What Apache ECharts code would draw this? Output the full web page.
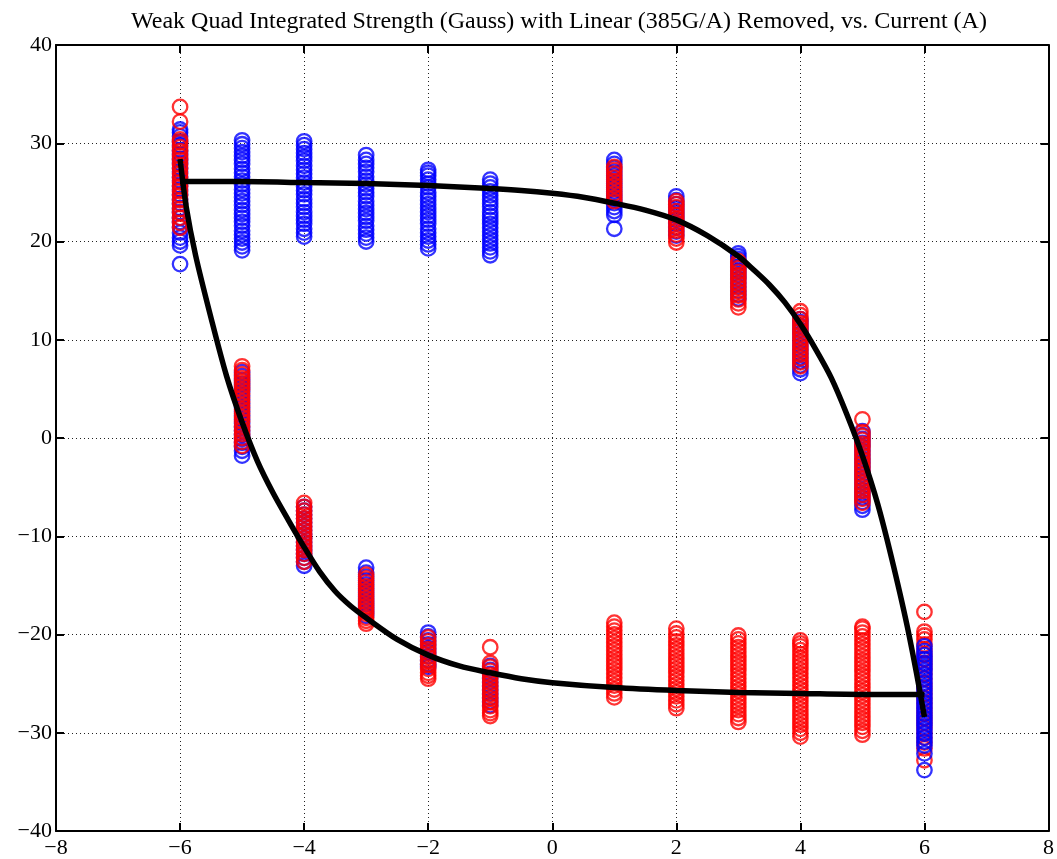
<!DOCTYPE html>
<html>
<head>
<meta charset="utf-8">
<script src="https://cdn.jsdelivr.net/npm/echarts@6/dist/echarts.min.js"></script>
<style>
html,body{margin:0;padding:0;background:#fff;}
#chart{width:1057px;height:859px;}
</style>
</head>
<body>
<div id="chart"></div>
<script>
const titleText = 'Weak Quad Integrated Strength (Gauss) with Linear (385G/A) Removed, vs. Current (A)';
const xTicks = [-8, -6, -4, -2, 0, 2, 4, 6, 8];
const yTicks = [-40, -30, -20, -10, 0, 10, 20, 30, 40];

// Blue measurements per current setting
const blueN6 = [17.7, 19.6, 20.0, 20.4, 20.9, 21.5, 22.0, 22.4, 23.0, 23.4, 23.9, 24.3, 24.8, 25.3, 25.7, 26.2, 26.6, 27.1, 27.5, 28.0, 28.4, 28.9, 29.3, 29.8, 30.2, 30.7, 31.1, 31.4];
const blueN5up = [19.1, 19.5, 19.9, 20.3, 20.7, 21.1, 21.6, 22.0, 22.4, 22.8, 23.2, 23.7, 24.1, 24.5, 24.9, 25.3, 25.8, 26.2, 26.6, 27.0, 27.4, 27.9, 28.3, 28.7, 29.1, 29.5, 29.9, 30.3];
const blueN4up = [20.5, 20.9, 21.3, 21.8, 22.2, 22.6, 23.0, 23.5, 23.9, 24.3, 24.8, 25.2, 25.6, 26.0, 26.5, 26.9, 27.3, 27.7, 28.2, 28.6, 29.0, 29.4, 29.8, 30.2];
const blueN3up = [20.0, 20.4, 20.8, 21.2, 21.6, 22.1, 22.5, 22.9, 23.3, 23.7, 24.1, 24.6, 25.0, 25.4, 25.8, 26.2, 26.6, 27.1, 27.5, 27.9, 28.3, 28.8];
const blueN2up = [19.3, 19.7, 20.1, 20.5, 20.9, 21.3, 21.8, 22.2, 22.6, 23.0, 23.4, 23.8, 24.2, 24.6, 25.0, 25.5, 25.9, 26.3, 26.7, 27.0, 27.3];
const blueN1up = [18.6, 19.0, 19.4, 19.8, 20.2, 20.6, 21.0, 21.4, 21.8, 22.2, 22.6, 23.0, 23.5, 23.9, 24.3, 24.7, 25.1, 25.5, 25.9, 26.3];
const blueN5lo = [-1.8, -1.3, -0.9, -0.5, -0.1, 0.3, 0.7, 1.1, 1.5, 1.9, 2.3, 2.7, 3.1, 3.5, 3.9, 4.3, 4.7, 5.1, 5.5, 5.9, 6.3, 6.7];
const blueN4lo = [-13.0, -12.6, -12.2, -11.8, -11.4, -11.0, -10.6, -10.2, -9.8, -9.4, -9.0, -8.6, -8.2, -7.8, -7.4, -7.0];
const blueN3lo = [-13.2, -13.7, -14.1, -14.5, -14.9, -15.3, -15.7, -16.1, -16.5, -16.9, -17.3, -17.7, -18.1];
const blueN2lo = [-19.8, -20.2, -20.6, -21.0, -21.4, -21.8, -22.2, -22.6, -23.0, -23.3];
const blueN1lo = [-23.2, -23.6, -24.0, -24.4, -24.8, -25.2, -25.6, -26.0, -26.4, -26.8, -27.2];
const blueP1 = [21.3, 22.7, 23.1, 23.5, 23.9, 24.3, 24.7, 25.1, 25.5, 25.9, 26.3, 26.7, 27.1, 27.5, 27.9, 28.3];
const blueP2 = [20.6, 21.0, 21.4, 21.8, 22.2, 22.6, 23.0, 23.4, 23.8, 24.2, 24.6];
const blueP3 = [14.2, 14.6, 15.0, 15.4, 15.8, 16.2, 16.6, 17.0, 17.4, 17.8, 18.2, 18.5, 18.8];
const blueP4 = [6.6, 7.0, 7.4, 7.8, 8.2, 8.6, 9.0, 9.4, 9.8, 10.2, 10.6, 11.0, 11.4, 11.8, 12.1];
const blueP5 = [-7.3, -6.9, -6.5, -6.1, -5.7, -5.3, -4.9, -4.5, -4.1, -3.7, -3.3, -2.9, -2.5, -2.1, -1.7, -1.3, -0.9, -0.5, -0.1, 0.3, 0.7];
const blueP6 = [-33.8, -32.1, -31.3, -30.9, -30.5, -30.1, -29.7, -29.3, -28.9, -28.5, -28.1, -27.7, -27.3, -26.9, -26.5, -26.1, -25.7, -25.3, -24.9, -24.5, -24.1, -23.7, -23.3, -22.9, -22.5, -22.1, -21.7, -21.2];

// Red measurements per current setting
const redN6 = [21.4, 21.9, 22.4, 22.9, 23.3, 23.8, 24.2, 24.7, 25.1, 25.6, 26.0, 26.5, 26.9, 27.4, 27.8, 28.3, 28.7, 29.2, 29.6, 30.1, 30.4, 32.2, 33.7];
const redN5 = [-0.8, -0.4, 0.0, 0.4, 0.8, 1.2, 1.7, 2.1, 2.5, 2.9, 3.3, 3.7, 4.1, 4.5, 4.9, 5.3, 5.7, 6.1, 6.5, 6.9, 7.3];
const redN4 = [-12.6, -12.2, -11.8, -11.4, -11.0, -10.6, -10.2, -9.8, -9.4, -9.0, -8.6, -8.2, -7.8, -7.4, -7.0, -6.6];
const redN3 = [-13.9, -14.3, -14.7, -15.1, -15.5, -15.9, -16.3, -16.7, -17.1, -17.5, -17.9, -18.3, -18.6, -18.9];
const redN2 = [-20.3, -20.7, -21.1, -21.5, -21.9, -22.3, -22.7, -23.1, -23.5, -23.9, -24.2, -24.5];
const redN1 = [-21.3, -22.9, -23.3, -23.7, -24.1, -24.5, -24.9, -25.3, -25.7, -26.1, -26.5, -26.9, -27.3, -27.7, -28.0, -28.3];
const redP1up = [24.1, 24.5, 24.9, 25.3, 25.7, 26.1, 26.5, 26.9, 27.3, 27.6];
const redP2up = [19.9, 20.3, 20.7, 21.1, 21.5, 21.9, 22.3, 22.7, 23.1, 23.5, 23.8, 24.1];
const redP3up = [13.3, 13.7, 14.1, 14.5, 14.9, 15.3, 15.7, 16.1, 16.5, 16.9, 17.3, 17.7, 18.0];
const redP4up = [7.3, 7.7, 8.1, 8.5, 8.9, 9.3, 9.7, 10.1, 10.5, 10.9, 11.3, 11.7, 12.1, 12.5, 12.9];
const redP5up = [-6.6, -6.2, -5.8, -5.4, -5.0, -4.6, -4.2, -3.8, -3.4, -3.0, -2.6, -2.2, -1.8, -1.4, -1.0, -0.6, -0.2, 0.2, 0.6, 1.9];
const redP1lo = [-26.4, -26.0, -25.6, -25.2, -24.8, -24.4, -24.0, -23.6, -23.2, -22.8, -22.4, -22.0, -21.6, -21.2, -20.8, -20.4, -20.0, -19.6, -19.2, -18.8];
const redP2lo = [-27.5, -27.1, -26.7, -26.3, -25.9, -25.5, -25.1, -24.7, -24.3, -23.9, -23.5, -23.1, -22.7, -22.3, -21.9, -21.5, -21.1, -20.7, -20.3, -19.9, -19.4];
const redP3lo = [-28.9, -28.5, -28.1, -27.7, -27.3, -26.9, -26.5, -26.1, -25.7, -25.3, -24.9, -24.5, -24.1, -23.7, -23.3, -22.9, -22.5, -22.1, -21.7, -21.3, -20.9, -20.5, -20.1];
const redP4lo = [-30.4, -30.0, -29.6, -29.2, -28.8, -28.4, -28.0, -27.6, -27.2, -26.8, -26.4, -26.0, -25.6, -25.2, -24.8, -24.4, -24.0, -23.6, -23.2, -22.8, -22.4, -22.0, -21.6, -21.2, -20.9, -20.6];
const redP5lo = [-30.2, -29.8, -29.4, -29.0, -28.6, -28.2, -27.8, -27.4, -27.0, -26.6, -26.2, -25.8, -25.4, -25.0, -24.6, -24.2, -23.8, -23.4, -23.0, -22.6, -22.2, -21.8, -21.4, -21.0, -20.6, -20.2, -19.8, -19.4, -19.2];
const redP6 = [-32.8, -31.6, -31.0, -30.5, -30.0, -29.5, -29.0, -28.5, -28.0, -27.5, -27.0, -26.5, -26.0, -25.5, -25.0, -24.5, -24.0, -23.5, -23.0, -22.5, -22.0, -21.5, -21.0, -20.5, -20.1, -19.7, -17.7];

// Fitted hysteresis branches
const upperX = [-6, -5, -4, -3, -2, -1, -0.5, 0, 0.5, 1, 1.5, 2, 2.5, 3, 3.25, 3.5, 3.75, 4, 4.25, 4.5, 4.75, 5, 5.25, 5.5, 5.75, 6];
const upperY = [26.1, 26.1, 26.0, 25.9, 25.7, 25.4, 25.2, 24.9, 24.5, 23.9, 23.2, 22.2, 20.6, 18.5, 17.1, 15.6, 13.8, 11.6, 9.0, 6.1, 2.4, -1.8, -6.8, -13.0, -20.0, -28.4];
const lowerX = [-6, -5.9, -5.75, -5.5, -5.25, -5, -4.75, -4.5, -4.25, -4, -3.75, -3.5, -3.25, -3, -2.5, -2, -1.5, -1, -0.5, 0, 1, 2, 3, 4, 5, 6];
const lowerY = [28.4, 23.5, 18.6, 12.2, 6.3, 1.6, -2.4, -5.6, -8.4, -11.1, -13.6, -15.6, -17.1, -18.3, -20.5, -22.1, -23.2, -23.9, -24.5, -24.9, -25.4, -25.7, -25.9, -26.0, -26.1, -26.1];

const blueCols = [[-6, blueN6], [-5, blueN5up], [-4, blueN4up], [-3, blueN3up], [-2, blueN2up], [-1, blueN1up],
  [-5, blueN5lo], [-4, blueN4lo], [-3, blueN3lo], [-2, blueN2lo], [-1, blueN1lo],
  [1, blueP1], [2, blueP2], [3, blueP3], [4, blueP4], [5, blueP5]];
const blueTopCols = [[6, blueP6]];
const redCols = [[-6, redN6], [-5, redN5], [-4, redN4], [-3, redN3], [-2, redN2], [-1, redN1],
  [1, redP1up], [2, redP2up], [3, redP3up], [4, redP4up], [5, redP5up],
  [1, redP1lo], [2, redP2lo], [3, redP3lo], [4, redP4lo], [5, redP5lo], [6, redP6]];

function toPoints(cols) {
  const out = [];
  cols.forEach(function (c) { c[1].forEach(function (v) { out.push([c[0], v]); }); });
  return out;
}
function zip(xs, ys) { return xs.map(function (x, i) { return [x, ys[i]]; }); }

const FONT = '"Liberation Serif", "DejaVu Serif", serif';
const minusFmt = function (v) { return String(v).replace('-', '\u2212'); };
const dotted = { show: true, lineStyle: { type: [1, 3], color: '#222', width: 1 } };
const frameLine = { show: true, onZero: false, lineStyle: { color: '#000', width: 2 } };
const innerTick = { show: true, inside: true, length: 8, lineStyle: { color: '#000', width: 2 } };
const blueStyle = { color: 'rgba(0,0,0,0)', borderColor: '#0000ff', borderWidth: 2.3 };
const redStyle = { color: 'rgba(0,0,0,0)', borderColor: '#ff0000', borderWidth: 2.3 };

const chart = echarts.init(document.getElementById('chart'), null, { renderer: 'canvas' });
chart.setOption({
  animation: false,
  backgroundColor: '#fff',
  title: {
    text: titleText, left: 554, top: 5, textAlign: 'center',
    textStyle: { fontFamily: FONT, fontSize: 24, fontWeight: 'normal', color: '#000' }
  },
  grid: { left: 56, right: 7, top: 45, bottom: 28, containLabel: false },
  xAxis: [{
    type: 'value', min: -8, max: 8, interval: 2, position: 'bottom',
    axisLine: frameLine, axisTick: innerTick,
    axisLabel: { color: '#000', fontFamily: FONT, fontSize: 22, margin: 6, formatter: minusFmt },
    splitLine: dotted
  }, {
    type: 'value', min: -8, max: 8, interval: 2, position: 'top',
    axisLine: frameLine, axisTick: innerTick,
    axisLabel: { show: false }, splitLine: { show: false }
  }],
  yAxis: [{
    type: 'value', min: -40, max: 40, interval: 10, position: 'left',
    axisLine: frameLine, axisTick: innerTick,
    axisLabel: { color: '#000', fontFamily: FONT, fontSize: 22, margin: 4, formatter: minusFmt },
    splitLine: dotted
  }, {
    type: 'value', min: -40, max: 40, interval: 10, position: 'right',
    axisLine: frameLine, axisTick: innerTick,
    axisLabel: { show: false }, splitLine: { show: false }
  }],
  series: [{
    type: 'scatter', data: toPoints(blueCols), symbol: 'circle', symbolSize: 14.5,
    itemStyle: blueStyle, z: 2
  }, {
    type: 'scatter', data: toPoints(redCols), symbol: 'circle', symbolSize: 14.5,
    itemStyle: redStyle, z: 3
  }, {
    type: 'scatter', data: toPoints(blueTopCols), symbol: 'circle', symbolSize: 14.5,
    itemStyle: blueStyle, z: 3
  }, {
    type: 'line', data: zip(upperX, upperY), smooth: 0.3, showSymbol: false, symbol: 'none',
    lineStyle: { color: '#000', width: 5.5 }, z: 4
  }, {
    type: 'line', data: zip(lowerX, lowerY), smooth: 0.3, showSymbol: false, symbol: 'none',
    lineStyle: { color: '#000', width: 5.5 }, z: 4
  }]
});
</script>
</body>
</html>
